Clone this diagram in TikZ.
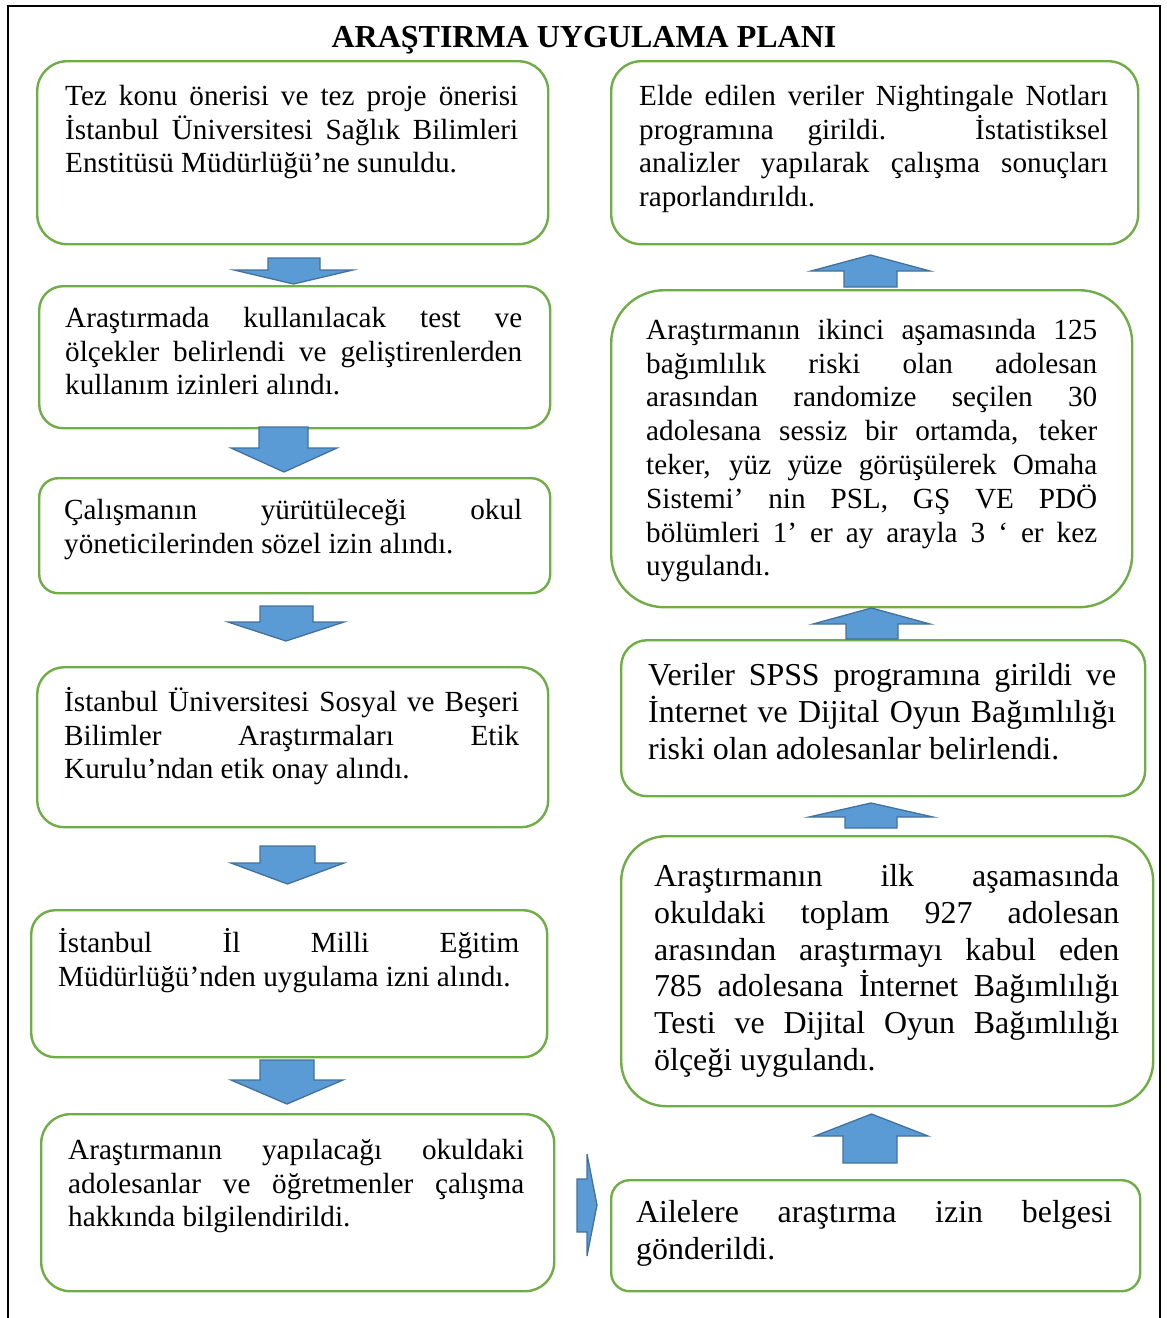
\documentclass[tikz,border=0pt]{standalone}
\usepackage{fontspec}
\setmainfont{Liberation Serif}
\newlength\jw
\newcommand\J[1]{\makebox[\jw][s]{#1}}
\newcommand\smallsz{\fontsize{29.2pt}{33.8pt}\selectfont}
\newcommand\bigsz{\fontsize{31.9pt}{36.9pt}\selectfont}
\definecolor{boxgreen}{HTML}{70AD47}
\definecolor{arrfill}{HTML}{5B9BD5}
\definecolor{arrline}{HTML}{41719C}
\tikzset{
  stepbox/.style={draw=boxgreen, line width=2.4pt, fill=white, anchor=north west, inner sep=0pt},
  txt/.style={anchor=north west, inner sep=0pt, align=left, font=\smallsz},
  bigtxt/.style={anchor=north west, inner sep=0pt, align=left, font=\bigsz},
  blockarrow/.style={fill=arrfill, draw=arrline, line width=1.3pt, line join=miter},
  frame/.style={draw=black, line width=2pt}
}
% name, x1, y1, x2, y2, radius
\newcommand\bx[6]{\node[stepbox, rounded corners=#6pt, minimum width=#4pt-#2pt, minimum height=#5pt-#3pt] (#1) at (#2,#3) {};}
% block arrow: shaft x1, shaft x2, shaft end y, head x1, head x2, head base y, tip y
\newcommand\blk[7]{\draw[blockarrow] (#1,#3) -- (#2,#3) -- (#2,#6) -- (#5,#6) -- ({(#4+#5)/2},#7) -- (#4,#6) -- (#1,#6) -- cycle;}
\begin{document}
\begin{tikzpicture}[x=1pt, y=-1pt]
\useasboundingbox (0,0) rectangle (1167,1318);
\draw[frame] (8,1320) -- (8,6) -- (1160,6) -- (1160,1320);
\node[anchor=base, font=\bfseries\fontsize{32pt}{36pt}\selectfont] (title) at (584,47) {ARAŞTIRMA UYGULAMA PLANI};

% boxes
\bx{L1}{36}{60}{547}{243}{30}
\bx{L2}{38}{285}{549}{427}{24}
\bx{L3}{38}{477}{549}{592}{19}
\bx{L4}{36}{666}{547}{826}{27}
\bx{L5}{30}{909}{546}{1056}{24}
\bx{L6}{40}{1113}{553}{1290}{29}
\bx{R1}{610}{60}{1137}{243}{30}
\bx{R2}{610}{289}{1131}{606}{53}
\bx{R3}{620}{639}{1144}{795}{26}
\bx{R4}{620}{835}{1152}{1105}{45}
\bx{R5}{610}{1179}{1139}{1290}{18.5}

% texts
\setlength\jw{453pt}
\node[txt] (tL1) at (65,{105-27}) {\rule{0pt}{27pt}\J{Tez konu önerisi ve tez proje önerisi}\\\J{İstanbul Üniversitesi Sağlık Bilimleri}\\Enstitüsü Müdürlüğü’ne sunuldu.};
\setlength\jw{457pt}
\node[txt] (tL2) at (65,{327-27}) {\rule{0pt}{27pt}\J{Araştırmada kullanılacak test ve}\\\J{ölçekler belirlendi ve geliştirenlerden}\\kullanım izinleri alındı.};
\setlength\jw{458pt}
\node[txt] (tL3) at (64,{519-27}) {\rule{0pt}{27pt}\J{Çalışmanın yürütüleceği okul}\\yöneticilerinden sözel izin alındı.};
\setlength\jw{455pt}
\node[txt] (tL4) at (64,{711-27}) {\rule{0pt}{27pt}\J{İstanbul Üniversitesi Sosyal ve Beşeri}\\\J{Bilimler Araştırmaları Etik}\\Kurulu’ndan etik onay alındı.};
\setlength\jw{461pt}
\node[txt] (tL5) at (58,{952-27}) {\rule{0pt}{27pt}\J{İstanbul İl Milli Eğitim}\\Müdürlüğü’nden uygulama izni alındı.};
\setlength\jw{456pt}
\node[txt] (tL6) at (68,{1159-27}) {\rule{0pt}{27pt}\J{Araştırmanın yapılacağı okuldaki}\\\J{adolesanlar ve öğretmenler çalışma}\\hakkında bilgilendirildi.};

\setlength\jw{469pt}
\node[txt] (tR1) at (639,{105-27}) {\rule{0pt}{27pt}\J{Elde edilen veriler Nightingale Notları}\\\J{programına girildi. İstatistiksel}\\\J{analizler yapılarak çalışma sonuçları}\\raporlandırıldı.};
\setlength\jw{451pt}
\node[txt] (tR2) at (646,{339-27}) {\rule{0pt}{27pt}\J{Araştırmanın ikinci aşamasında 125}\\\J{bağımlılık riski olan adolesan}\\\J{arasından randomize seçilen 30}\\\J{adolesana sessiz bir ortamda, teker}\\\J{teker, yüz yüze görüşülerek Omaha}\\\J{Sistemi’ nin PSL, GŞ VE PDÖ}\\\J{bölümleri 1’ er ay arayla 3 ‘ er kez}\\uygulandı.};
\setlength\jw{468pt}
\node[bigtxt] (tR3) at (648,{685-29}) {\rule{0pt}{29pt}\J{Veriler SPSS programına girildi ve}\\\J{İnternet ve Dijital Oyun Bağımlılığı}\\riski olan adolesanlar belirlendi.};
\setlength\jw{465pt}
\node[bigtxt] (tR4) at (654,{886-29}) {\rule{0pt}{29pt}\J{Araştırmanın ilk aşamasında}\\\J{okuldaki toplam 927 adolesan}\\\J{arasından araştırmayı kabul eden}\\\J{785 adolesana İnternet Bağımlılığı}\\\J{Testi ve Dijital Oyun Bağımlılığı}\\ölçeği uygulandı.};
\setlength\jw{476pt}
\node[bigtxt] (tR5) at (636,{1222-29}) {\rule{0pt}{29pt}\J{Ailelere araştırma izin belgesi}\\gönderildi.};

% block arrows, left column (down)
\blk{268}{320}{258}{234}{353}{270}{284}
\blk{259}{308}{427}{231}{337}{448}{472}
\blk{260}{313}{606}{228}{344}{622}{641}
\blk{260}{315}{846}{231}{344}{863}{884}
\blk{260}{314}{1060}{231}{343}{1080}{1104}
% block arrows, right column (up)
\blk{844}{897}{287}{811}{930}{271}{255}
\blk{846}{898}{639}{813}{930}{624}{608}
\blk{845}{897}{828}{809}{933}{817}{803}
\blk{843}{897}{1163}{815}{928}{1136}{1114}
% horizontal arrow L6 -> R5
\draw[blockarrow] (577,1179) -- (587,1179) -- (587,1154) -- (597,1205) -- (587,1256) -- (587,1232) -- (577,1232) -- cycle;
\end{tikzpicture}
\end{document}
